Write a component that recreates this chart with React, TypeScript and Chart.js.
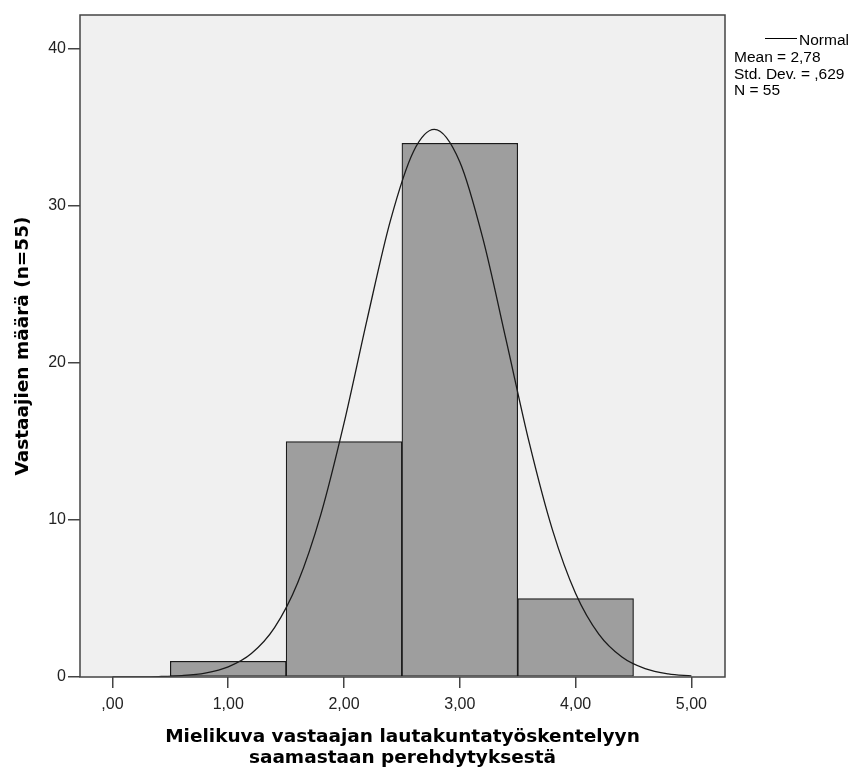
import React, { useEffect, useRef } from "react";
import { Chart, registerables } from "chart.js";

Chart.register(...registerables);

// Histogram bins (bin centres, width 1) and counts
const binCenters = [1, 2, 3, 4];
const binCounts = [1, 15, 34, 5];

// Normal curve
const curveX = [0, 0.2, 0.4, 0.6, 0.8, 1.0, 1.2, 1.4, 1.6, 1.8, 2.0, 2.2, 2.4, 2.6, 2.78, 3.0, 3.2, 3.4, 3.6, 3.8, 4.0, 4.2, 4.4, 4.6, 4.8, 5.0];
const curveY = [0.0, 0.01, 0.03, 0.09, 0.25, 0.64, 1.49, 3.14, 6.0, 10.36, 16.17, 22.8, 29.06, 33.48, 34.88, 32.81, 27.91, 21.46, 14.91, 9.37, 5.32, 2.73, 1.27, 0.53, 0.2, 0.07];

const xTickValues = [0, 1, 2, 3, 4, 5];
const xTickLabels = [",00", "1,00", "2,00", "3,00", "4,00", "5,00"];
const yTickValues = [0, 10, 20, 30, 40];
const yTickLabels = ["0", "10", "20", "30", "40"];

const legendTitle = "Normal";
const legendLines = ["Mean = 2,78", "Std. Dev. = ,629", "N = 55"];
const xTitle = ["Mielikuva vastaajan lautakuntatyöskentelyyn", "saamastaan perehdytyksestä"];
const yTitle = "Vastaajien määrä (n=55)";

const TICK_FONT = "'Liberation Sans', Arial, sans-serif";
const TITLE_FONT = "'DejaVu Sans', Verdana, sans-serif";

const framePlugin = {
  id: "frame",
  beforeDraw(chart: any) {
    const { ctx, chartArea: a } = chart;
    ctx.save();
    ctx.fillStyle = "#ffffff";
    ctx.fillRect(0, 0, chart.width, chart.height);
    ctx.fillStyle = "#f0f0f0";
    ctx.fillRect(a.left, a.top, a.right - a.left, a.bottom - a.top);
    ctx.restore();
  },
  afterDatasetsDraw(chart: any) {
    const { ctx, chartArea: a } = chart;
    ctx.save();
    ctx.strokeStyle = "#444444";
    ctx.lineWidth = 1.5;
    ctx.strokeRect(a.left, a.top, a.right - a.left, a.bottom - a.top);
    ctx.restore();
  },
  afterDraw(chart: any) {
    const { ctx, chartArea: a } = chart;
    ctx.save();
    ctx.fillStyle = "#000";
    ctx.strokeStyle = "#000";
    ctx.lineWidth = 1;
    ctx.font = `15.5px ${TICK_FONT}`;
    ctx.textBaseline = "alphabetic";
    ctx.textAlign = "left";
    const lx = a.right + 9;
    ctx.beginPath();
    ctx.moveTo(lx + 31, 38.5);
    ctx.lineTo(lx + 63, 38.5);
    ctx.stroke();
    ctx.fillText(legendTitle, lx + 65, 45);
    legendLines.forEach((t, i) => {
      ctx.fillText(t, lx, 62 + i * 16.5);
    });
    ctx.restore();
  },
};

export default function App() {
  const ref = useRef<HTMLCanvasElement | null>(null);

  useEffect(() => {
    document.body.style.margin = "0";
    const canvas = ref.current;
    if (!canvas) return;
    const chart = new Chart(canvas, {
      type: "bar",
      data: {
        datasets: [
          {
            type: "line",
            data: curveX.map((x, i) => ({ x, y: curveY[i] })),
            borderColor: "#1a1a1a",
            borderWidth: 1.3,
            pointRadius: 0,
            fill: false,
            cubicInterpolationMode: "monotone",
            order: 0,
          } as any,
          {
            type: "bar",
            data: binCenters.map((x, i) => ({ x, y: binCounts[i] })),
            backgroundColor: "#9e9e9e",
            borderColor: "#1a1a1a",
            borderWidth: 1.2,
            borderSkipped: false,
            barPercentage: 1,
            categoryPercentage: 1,
            order: 1,
          } as any,
        ],
      },
      options: {
        responsive: false,
        animation: false,
        devicePixelRatio: 1,
        layout: { padding: { top: 15, right: 131, left: 0, bottom: 0 } },
        plugins: { legend: { display: false }, tooltip: { enabled: false } },
        scales: {
          x: {
            type: "linear",
            min: -0.28,
            max: 5.29,
            offset: false,
            afterBuildTicks: (s: any) => {
              s.ticks = xTickValues.map((v) => ({ value: v }));
            },
            afterFit: (s: any) => {
              s.height = 93;
            },
            ticks: {
              callback: (_v: any, i: number) => xTickLabels[i],
              font: { family: TICK_FONT, size: 16 },
              color: "#222",
              maxRotation: 0,
              autoSkip: false,
              padding: 7,
            },
            grid: { offset: false, drawOnChartArea: false, drawTicks: true, tickLength: 11, color: "#444", lineWidth: 1.5 },
            border: { display: false },
            title: {
              display: true,
              text: xTitle,
              color: "#000",
              font: { family: TITLE_FONT, weight: "bold", size: 18.5, lineHeight: 1.15 },
              padding: { top: 0, bottom: 1 },
            },
          },
          y: {
            type: "linear",
            min: 0,
            max: 42.17,
            afterBuildTicks: (s: any) => {
              s.ticks = yTickValues.map((v) => ({ value: v }));
            },
            afterFit: (s: any) => {
              s.width = 80;
            },
            ticks: {
              callback: (_v: any, i: number) => yTickLabels[i],
              font: { family: TICK_FONT, size: 16 },
              color: "#222",
              autoSkip: false,
              padding: 2,
            },
            grid: { offset: false, drawOnChartArea: false, drawTicks: true, tickLength: 12, color: "#444", lineWidth: 1.5 },
            border: { display: false },
            title: {
              display: true,
              text: yTitle,
              color: "#000",
              font: { family: TITLE_FONT, weight: "bold", size: 18.5, lineHeight: 1.2 },
              padding: { top: 12, bottom: 0 },
            },
          },
        },
      },
      plugins: [framePlugin],
    } as any);
    return () => chart.destroy();
  }, []);

  return (
    <div style={{ width: 856, height: 770 }}>
      <canvas ref={ref} width={856} height={770} style={{ display: "block" }} />
    </div>
  );
}
